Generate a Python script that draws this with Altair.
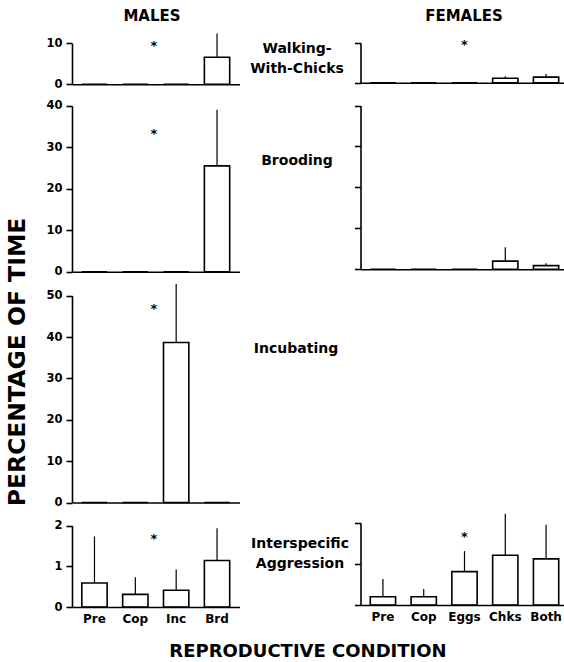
import altair as alt
import pandas as pd

FONT = "DejaVu Sans"
W, H = 564, 662

# ---------------- data ----------------
male_conds = ["Pre", "Cop", "Inc", "Brd"]
female_conds = ["Pre", "Cop", "Eggs", "Chks", "Both"]

male_walk_mean = [0, 0, 0, 6.6]
male_walk_top = [0, 0, 0, 12.4]
female_walk_mean = [0, 0, 0, 1.1, 1.4]
female_walk_top = [0, 0, 0, 1.6, 2.2]

male_brood_mean = [0, 0, 0, 25.5]
male_brood_top = [0, 0, 0, 39.0]
female_brood_mean = [0, 0, 0, 2.0, 0.9]
female_brood_top = [0, 0, 0, 5.4, 1.5]

male_inc_mean = [0, 0, 38.7, 0]
male_inc_top = [0, 0, 52.8, 0]

male_agg_mean = [0.59, 0.31, 0.41, 1.14]
male_agg_top = [1.73, 0.73, 0.92, 1.93]
female_agg_mean = [0.20, 0.20, 0.81, 1.21, 1.12]
female_agg_top = [0.63, 0.39, 1.31, 2.22, 1.95]

# significance markers: (anchor condition, height); None = no marker
male_walk_star = ("Cop", 10.0)
female_walk_star = ("Eggs", 10.2)
male_brood_star = ("Cop", 34.0)
female_brood_star = None
male_inc_star = ("Cop", 47.5)
male_agg_star = ("Cop", 1.74)
female_agg_star = ("Eggs", 1.73)

walk_ticks = [0, 10]
brood_ticks = [0, 10, 20, 30, 40]
inc_ticks = [0, 10, 20, 30, 40, 50]
agg_ticks = [0, 1, 2]

behaviour_labels = ["Walking-|With-Chicks", "Brooding", "Incubating", "Interspecific|Aggression"]
column_titles = ["MALES", "FEMALES"]
x_title = "REPRODUCTIVE CONDITION"
y_title = "PERCENTAGE OF TIME"


def panel(conds, means, tops, star, xrange, axis_x, yrange, ydomain, yticks,
          ylabels, xlabels, star_dx):
    df = pd.DataFrame({"cond": conds, "mean": means, "top": tops})

    def xs():
        return alt.Scale(domain=conds, range=xrange, paddingInner=0.38, paddingOuter=0.24)

    def ys():
        return alt.Scale(domain=ydomain, range=yrange, nice=False, zero=True)

    xaxis = alt.Axis(orient="bottom", offset=yrange[0] - H, labels=xlabels, ticks=False,
                     domain=True, domainColor="black", domainWidth=1.6, grid=False,
                     labelFont=FONT, labelFontWeight="bold", labelFontSize=12,
                     labelColor="black", labelPadding=6, labelAngle=0, labelOverlap=False,
                     title=None, zindex=1)
    yaxis = alt.Axis(orient="left", offset=-axis_x, values=yticks, labels=ylabels,
                     labelExpr="round(datum.value) + ''",
                     ticks=True, tickSize=6, tickWidth=1.6, tickColor="black",
                     domain=True, domainColor="black", domainWidth=1.6, grid=False,
                     labelFont=FONT, labelFontWeight="bold", labelFontSize=11.5,
                     labelColor="black", labelPadding=4, labelOverlap=False,
                     labelFlush=False, title=None, zindex=1)
    layers = []
    layers.append(alt.Chart(df).mark_rule(color="black", strokeWidth=1.2).encode(
        x=alt.X("cond:N", scale=xs(), axis=None),
        y=alt.Y("mean:Q", scale=ys(), axis=None),
        y2="top:Q",
    ))
    layers.append(alt.Chart(df).mark_bar(fill="white", stroke="black", strokeWidth=1.6).encode(
        x=alt.X("cond:N", scale=xs(), axis=xaxis),
        y=alt.Y("mean:Q", scale=ys(), axis=yaxis),
    ))
    if star is not None:
        sdf = pd.DataFrame({"cond": [star[0]], "v": [star[1]]})
        layers.append(alt.Chart(sdf).mark_text(text="*", font=FONT, fontWeight="bold",
                                               fontSize=13, dx=star_dx, dy=3,
                                               color="black").encode(
            x=alt.X("cond:N", scale=xs(), axis=None),
            y=alt.Y("v:Q", scale=ys(), axis=None),
        ))
    return layers


MX = [72, 239.5]
FX = [360.5, 568.5]

panels = []
panels += panel(male_conds, male_walk_mean, male_walk_top, male_walk_star, MX, 72,
                [84.3, 43.3], [0, 10], walk_ticks, True, False, 19)
panels += panel(female_conds, female_walk_mean, female_walk_top, female_walk_star, FX, 360.5,
                [82.7, 42.7], [0, 10], walk_ticks, False, False, 0)
panels += panel(male_conds, male_brood_mean, male_brood_top, male_brood_star, MX, 72,
                [271.7, 105.7], [0, 40], brood_ticks, True, False, 19)
panels += panel(female_conds, female_brood_mean, female_brood_top, female_brood_star, FX, 360.5,
                [269.3, 105.5], [0, 40], brood_ticks, False, False, 0)
panels += panel(male_conds, male_inc_mean, male_inc_top, male_inc_star, MX, 72,
                [502.5, 295.7], [0, 50], inc_ticks, True, False, 19)
panels += panel(male_conds, male_agg_mean, male_agg_top, male_agg_star, MX, 72,
                [607.0, 525.5], [0, 2], agg_ticks, True, True, 19)
panels += panel(female_conds, female_agg_mean, female_agg_top, female_agg_star, FX, 360.5,
                [605.0, 522.7], [0, 2], agg_ticks, False, True, 0)


def label(text, x, y, size, angle=0, baseline="alphabetic"):
    return alt.Chart(pd.DataFrame({"t": [text]})).mark_text(
        font=FONT, fontWeight="bold", fontSize=size, align="center", baseline=baseline,
        angle=angle, lineBreak="|", lineHeight=19.5, color="black",
    ).encode(text="t:N", x=alt.value(x), y=alt.value(y))


texts = [
    label(behaviour_labels[0], 297, 53, 14),
    label(behaviour_labels[1], 297, 165, 14),
    label(behaviour_labels[2], 296, 352.5, 14),
    label(behaviour_labels[3], 300, 548, 14),
    label(column_titles[0], 152, 20.5, 15),
    label(column_titles[1], 464, 20.5, 15),
    label(x_title, 308, 657, 18),
    label(y_title, 18, 362, 23.5, angle=270, baseline="middle"),
]

chart = alt.layer(*panels, *texts).resolve_scale(
    x="independent", y="independent"
).resolve_axis(
    x="independent", y="independent"
).properties(
    width=W, height=H, padding=0, autosize=alt.AutoSizeParams(type="none")
).configure_view(stroke=None)

chart.save("out.html", embed_options={"renderer": "svg", "actions": False})
